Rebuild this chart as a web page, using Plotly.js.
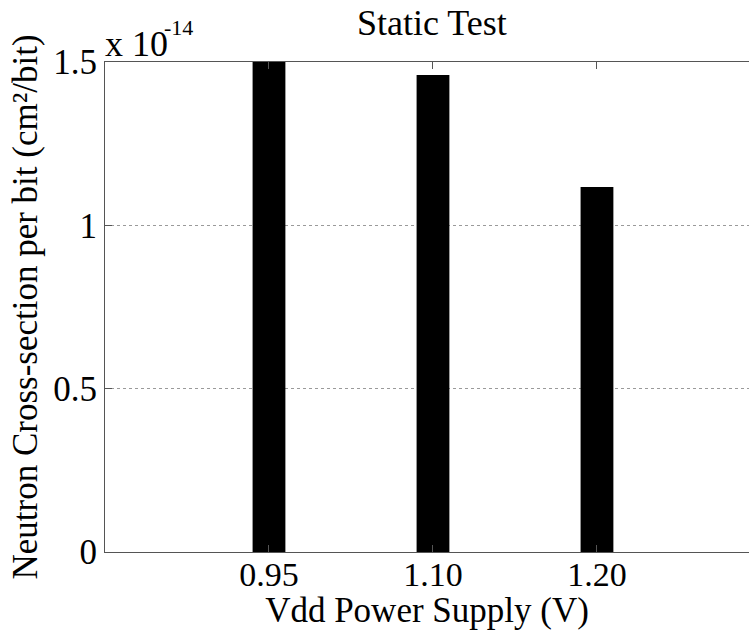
<!DOCTYPE html>
<html>
<head>
<meta charset="utf-8">
<script src="https://cdn.plot.ly/plotly-3.0.1.min.js"></script>
<style>html,body{margin:0;padding:0;background:#fff;}#chart{width:749px;height:630px;}</style>
</head>
<body>
<div id="chart"></div>
<script>
// Data (cross-section values in units of 1e-14 cm^2/bit)
const positions = [1, 2, 3];
const voltageLabels = ["0.95", "1.10", "1.20"];
const crossSection = [1.5, 1.46, 1.117];
const yTickVals = [0, 0.5, 1, 1.5];
const yTickText = ["0", "0.5", "1", "1.5"];

const FONT = "Liberation Serif, Times New Roman, serif";
const LINE = "#555555";
const FS = 36;

const trace = {
  type: "bar",
  x: positions,
  y: crossSection,
  width: 0.2,
  marker: { color: "#000000", line: { width: 0 } },
  hoverinfo: "skip"
};

const layout = {
  width: 749,
  height: 630,
  margin: { l: 105, r: 0, t: 62, b: 78 },
  paper_bgcolor: "#ffffff",
  plot_bgcolor: "#ffffff",
  showlegend: false,
  font: { family: FONT, size: FS, color: "#000" },
  title: {
    text: "Static Test",
    font: { family: FONT, size: FS, color: "#000" },
    xref: "paper", x: 0.5075, xanchor: "center",
    yref: "container", y: 1 - 22 / 630, yanchor: "middle"
  },
  xaxis: {
    range: [0, 3.927],
    tickvals: positions,
    ticktext: voltageLabels,
    ticks: "inside",
    ticklen: 7,
    tickwidth: 1,
    tickcolor: LINE,
    showline: true,
    linecolor: LINE,
    linewidth: 1,
    mirror: "ticks",
    showgrid: false,
    zeroline: false,
    ticklabelstandoff: -8,
    tickfont: { family: FONT, size: 34, color: "#000" },
    title: { text: "Vdd Power Supply (V)", font: { family: FONT, size: 35, color: "#000" }, standoff: 8 }
  },
  yaxis: {
    range: [0, 1.5],
    tickvals: yTickVals,
    ticktext: yTickText,
    ticks: "inside",
    ticklen: 7,
    tickwidth: 1,
    tickcolor: LINE,
    showline: true,
    linecolor: LINE,
    linewidth: 1,
    mirror: false,
    showgrid: true,
    gridcolor: "#9a9a9a",
    griddash: "dot",
    gridwidth: 1,
    zeroline: false,
    tickfont: { family: FONT, size: 35, color: "#000" },
    title: { text: "Neutron Cross-section per bit (cm²/bit)", font: { family: FONT, size: 35, color: "#000" }, standoff: 5 }
  },
  annotations: [
    {
      text: "x 10",
      xref: "paper", yref: "paper",
      x: 0, y: 1 + (62 - 44) / 490,
      xanchor: "left", yanchor: "middle",
      showarrow: false,
      font: { family: FONT, size: FS, color: "#000" },
      xshift: -2
    },
    {
      text: "-14",
      xref: "paper", yref: "paper",
      x: (165 - 105) / 644, y: 1 + (62 - 27) / 490,
      xanchor: "left", yanchor: "middle",
      showarrow: false,
      font: { family: FONT, size: 22, color: "#000" },
      xshift: -3
    }
  ]
};

Plotly.newPlot("chart", [trace], layout, { staticPlot: true, displayModeBar: false });
</script>
</body>
</html>
